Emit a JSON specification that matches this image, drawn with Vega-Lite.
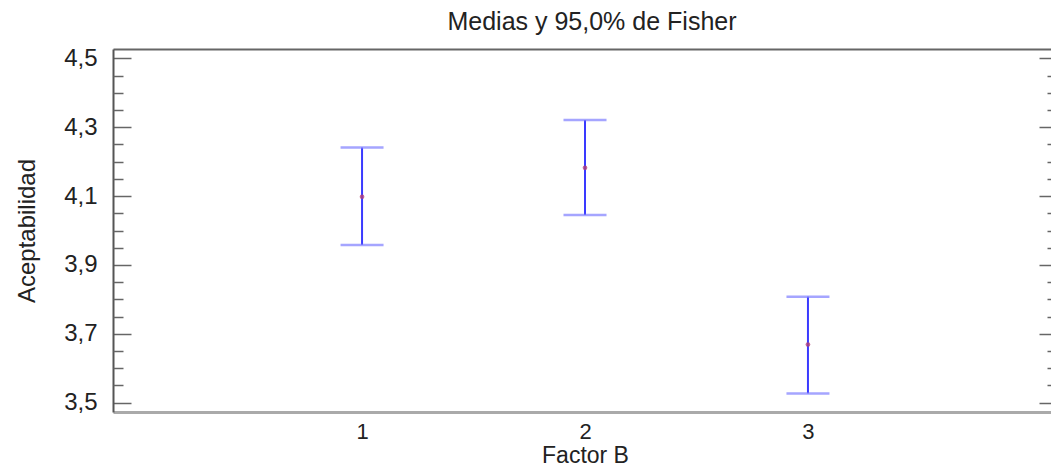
{
  "$schema": "https://vega.github.io/schema/vega-lite/v6.json",
  "autosize": "none",
  "padding": {"left": 113, "top": 49, "right": 0, "bottom": 58},
  "width": 944,
  "height": 363,
  "background": "white",
  "title": {
    "text": "Medias y 95,0% de Fisher",
    "font": "Liberation Sans",
    "fontSize": 25,
    "fontWeight": "normal",
    "color": "#222222",
    "anchor": "middle",
    "dx": 7,
    "offset": 11
  },
  "config": {
    "view": {"stroke": null},
    "font": "Liberation Sans"
  },
  "data": {
    "values": [
      {"factor": 1, "mean": 4.098, "lower": 3.958, "upper": 4.241},
      {"factor": 2, "mean": 4.182, "lower": 4.045, "upper": 4.321},
      {"factor": 3, "mean": 3.669, "lower": 3.527, "upper": 3.808}
    ]
  },
  "layer": [
    {
      "mark": {"type": "rule", "color": "#3a3aff", "strokeWidth": 2},
      "encoding": {
        "x": {
          "field": "factor", "type": "quantitative",
          "scale": {"domain": [-0.117, 4.117], "nice": false, "zero": false},
          "axis": {
            "orient": "bottom", "title": "Factor B", "values": [1, 2, 3],
            "ticks": false, "grid": false,
            "domainColor": "#aaaaaa", "domainWidth": 3,
            "labelFont": "Liberation Sans", "labelFontSize": 22, "labelColor": "#222222",
            "labelPadding": 9,
            "titleFont": "Liberation Sans", "titleFontSize": 23, "titleFontWeight": "normal",
            "titleColor": "#222222", "titlePadding": 2
          }
        },
        "y": {
          "field": "lower", "type": "quantitative",
          "scale": {"domain": [3.473, 4.527], "nice": false, "zero": false},
          "axis": {
            "orient": "left", "title": "Aceptabilidad",
            "values": [3.5, 3.7, 3.9, 4.1, 4.3, 4.5],
            "labelExpr": "replace(format(datum.value, '.1f'), '.', ',')",
            "grid": false, "tickSize": -18, "tickColor": "#666666", "tickWidth": 1.5,
            "domainColor": "#555555", "domainWidth": 2,
            "labelFont": "Liberation Sans", "labelFontSize": 24, "labelColor": "#222222",
            "labelPadding": 34,
            "titleFont": "Liberation Sans", "titleFontSize": 24, "titleFontWeight": "normal",
            "titleColor": "#222222", "titlePadding": 24
          }
        },
        "y2": {"field": "upper"}
      }
    },
    {
      "mark": {"type": "tick", "orient": "horizontal", "size": 43, "thickness": 2.5, "color": "#7f7fff"},
      "encoding": {
        "x": {
          "field": "factor", "type": "quantitative",
          "scale": {"domain": [-0.117, 4.117], "nice": false, "zero": false},
          "axis": {
            "orient": "top", "title": null, "labels": false, "ticks": false, "grid": false,
            "domainColor": "#666666", "domainWidth": 2
          }
        },
        "y": {
          "field": "lower", "type": "quantitative",
          "scale": {"domain": [3.473, 4.527], "nice": false, "zero": false},
          "axis": {
            "orient": "left", "title": null, "labels": false, "grid": false, "domain": false,
            "values": [3.55, 3.6, 3.65, 3.75, 3.8, 3.85, 3.95, 4.0, 4.05, 4.15, 4.2, 4.25, 4.35, 4.4, 4.45],
            "tickSize": -10, "tickColor": "#666666", "tickWidth": 1.5
          }
        }
      }
    },
    {
      "mark": {"type": "tick", "orient": "horizontal", "size": 43, "thickness": 2.5, "color": "#7f7fff"},
      "encoding": {
        "x": {"field": "factor", "type": "quantitative", "scale": {"domain": [-0.117, 4.117], "nice": false, "zero": false}, "axis": null},
        "y": {
          "field": "upper", "type": "quantitative",
          "scale": {"domain": [3.473, 4.527], "nice": false, "zero": false},
          "axis": {
            "orient": "right", "title": null, "labels": false, "grid": false, "domain": false,
            "values": [3.5, 3.7, 3.9, 4.1, 4.3, 4.5],
            "tickSize": -18, "tickColor": "#666666", "tickWidth": 1.5
          }
        }
      }
    },
    {
      "mark": {"type": "point", "filled": true, "shape": "circle", "size": 22, "color": "#b0407a", "opacity": 0.8},
      "encoding": {
        "x": {"field": "factor", "type": "quantitative", "scale": {"domain": [-0.117, 4.117], "nice": false, "zero": false}, "axis": null},
        "y": {
          "field": "mean", "type": "quantitative",
          "scale": {"domain": [3.473, 4.527], "nice": false, "zero": false},
          "axis": {
            "orient": "right", "title": null, "labels": false, "grid": false, "domain": false,
            "values": [3.55, 3.6, 3.65, 3.75, 3.8, 3.85, 3.95, 4.0, 4.05, 4.15, 4.2, 4.25, 4.35, 4.4, 4.45],
            "tickSize": -10, "tickColor": "#666666", "tickWidth": 1.5
          }
        }
      }
    }
  ],
  "resolve": {"axis": {"x": "independent", "y": "independent"}}
}
